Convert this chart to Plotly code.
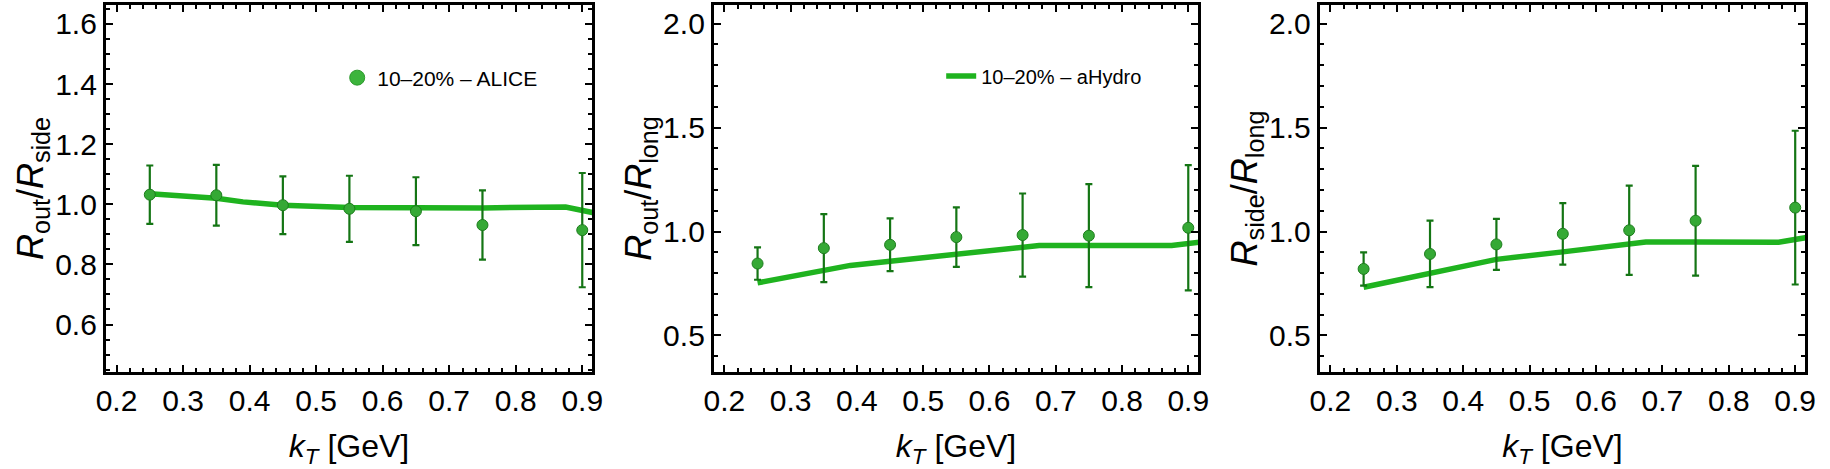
import plotly.graph_objects as go

# ---------------- data ----------------
kt = [0.25, 0.35, 0.45, 0.55, 0.65, 0.75, 0.9]
ratio_out_side = [1.032, 1.030, 0.997, 0.985, 0.977, 0.931, 0.914]
err_out_side = [0.097, 0.101, 0.096, 0.110, 0.113, 0.115, 0.190]
ratio_out_long = [0.846, 0.920, 0.936, 0.973, 0.983, 0.980, 1.018]
err_out_long = [0.078, 0.164, 0.127, 0.143, 0.200, 0.248, 0.301]
ratio_side_long = [0.820, 0.892, 0.938, 0.989, 1.006, 1.052, 1.115]
err_side_long = [0.080, 0.160, 0.123, 0.148, 0.215, 0.264, 0.370]

kt_model = [0.25, 0.35, 0.39, 0.45, 0.55, 0.65, 0.675, 0.75, 0.875, 0.93]
model_out_side = [1.035, 1.020, 1.008, 0.997, 0.989, 0.987, 0.987, 0.988, 0.991, 0.966]
model_out_long = [0.753, 0.812, 0.837, 0.857, 0.892, 0.924, 0.933, 0.933, 0.933, 0.953]
model_side_long = [0.732, 0.800, 0.830, 0.866, 0.902, 0.936, 0.949, 0.949, 0.948, 0.978]

x_ticks = [0.2, 0.3, 0.4, 0.5, 0.6, 0.7, 0.8, 0.9]
y1_ticks = [0.6, 0.8, 1.0, 1.2, 1.4, 1.6]
y23_ticks = [0.5, 1.0, 1.5, 2.0]

legend_alice = "10–20% – ALICE"
legend_ahydro = "10–20% – aHydro"

y_titles = [
    "<i>R</i><sub>out</sub>/<i>R</i><sub>side</sub>",
    "<i>R</i><sub>out</sub>/<i>R</i><sub>long</sub>",
    "<i>R</i><sub>side</sub>/<i>R</i><sub>long</sub>",
]
x_title = "<i>k</i><sub><i>T</i></sub> [GeV]"

# ---------------- style ----------------
W, H = 1830, 469
TOP, BOT = 5, 372
panels_px = [(97, 589), (712, 1202), (1325, 1816)]
LINE_C = "#1fb31f"
MARK_C = "#35a935"
EDGE_C = "#1d7d1d"
ERR_C = "#147514"
FONT = "Liberation Sans, Arial, Helvetica, sans-serif"

fig = go.Figure()

datasets = [
    (ratio_out_side, err_out_side, model_out_side),
    (ratio_out_long, err_out_long, model_out_long),
    (ratio_side_long, err_side_long, model_side_long),
]

for i, (vals, errs, model) in enumerate(datasets):
    xa = "x" if i == 0 else f"x{i+1}"
    ya = "y" if i == 0 else f"y{i+1}"
    fig.add_trace(go.Scatter(
        x=kt_model, y=model, xaxis=xa, yaxis=ya, mode="lines",
        line=dict(color=LINE_C, width=5.5), showlegend=False, hoverinfo="skip"))
    fig.add_trace(go.Scatter(
        x=kt, y=vals, xaxis=xa, yaxis=ya, mode="markers",
        marker=dict(color=MARK_C, size=11, line=dict(color=EDGE_C, width=1)),
        error_y=dict(type="data", array=errs, visible=True, color=ERR_C,
                     thickness=2.2, width=3.5),
        showlegend=False))

# legend-only entries
fig.add_trace(go.Scatter(
    x=[None], y=[None], xaxis="x", yaxis="y", mode="markers", name=legend_alice,
    marker=dict(color="#3cb43c", size=15, line=dict(color="#2e9a2e", width=1)),
    legend="legend"))
fig.add_trace(go.Scatter(
    x=[None], y=[None], xaxis="x2", yaxis="y2", mode="lines", name=legend_ahydro,
    line=dict(color=LINE_C, width=5.5), legend="legend2"))

def ypos(py):
    return 1 - (py - TOP) / (BOT - TOP)

axis_common = dict(
    showline=True, linecolor="black", linewidth=3, mirror="allticks",
    ticks="inside", ticklen=7, tickwidth=2, tickcolor="black",
    showgrid=False, zeroline=False,
    tickfont=dict(family=FONT, size=30, color="black"),
)

layout = dict(
    width=W, height=H,
    margin=dict(l=0, r=0, t=TOP, b=H - BOT),
    paper_bgcolor="white", plot_bgcolor="white",
    font=dict(family=FONT, color="black"),
    legend=dict(x=(331) / W, y=ypos(78), xanchor="left", yanchor="middle",
                font=dict(size=21, family=FONT), bgcolor="rgba(0,0,0,0)"),
    legend2=dict(x=(942) / W, y=ypos(76), xanchor="left", yanchor="middle",
                 font=dict(size=20, family=FONT), bgcolor="rgba(0,0,0,0)"),
)

for i, (l, r) in enumerate(panels_px):
    xk = "xaxis" if i == 0 else f"xaxis{i+1}"
    yk = "yaxis" if i == 0 else f"yaxis{i+1}"
    xa = "x" if i == 0 else f"x{i+1}"
    ya = "y" if i == 0 else f"y{i+1}"
    layout[xk] = dict(
        axis_common, domain=[l / W, r / W], anchor=ya, range=[0.184, 0.915],
        tickvals=x_ticks, ticktext=[f"{v:.1f}" for v in x_ticks],
        minor=dict(dtick=0.02, tick0=0.2, ticks="inside", ticklen=4, tickwidth=1.5,
                   tickcolor="black", showgrid=False),
        title=dict(text=x_title, font=dict(family=FONT, size=32), standoff=20),
    )
    if i == 0:
        yr, yt, md = [0.442, 1.663], y1_ticks, 0.05
    else:
        yr, yt, md = [0.324, 2.09], y23_ticks, 0.1
    layout[yk] = dict(
        axis_common, domain=[0, 1], anchor=xa, range=yr,
        tickvals=yt, ticktext=[f"{v:.1f}" for v in yt],
        minor=dict(dtick=md, tick0=0.0, ticks="inside", ticklen=4, tickwidth=1.5,
                   tickcolor="black", showgrid=False),
        title=dict(text=y_titles[i], font=dict(family=FONT, size=36), standoff=1),
    )

fig.update_layout(**layout)
fig.write_html("out.html")
